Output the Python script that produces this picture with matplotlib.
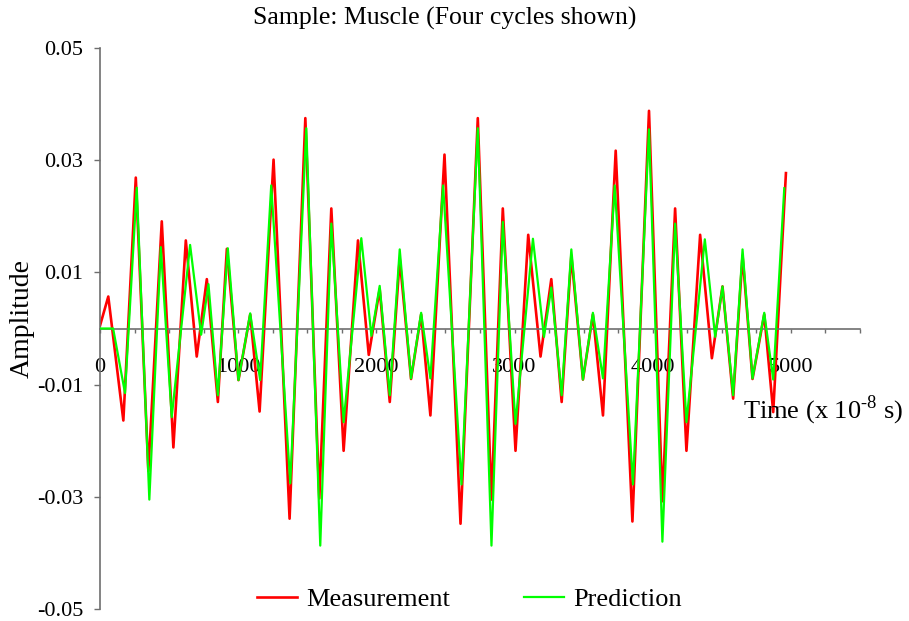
import matplotlib
matplotlib.use("Agg")
import matplotlib.pyplot as plt
import numpy as np

plt.rcParams['font.family'] = ['Liberation Serif', 'DejaVu Serif']
plt.rcParams['mathtext.fontset'] = 'custom'
plt.rcParams['mathtext.rm'] = 'Liberation Serif'

# turning points of the measured signal (time in 1e-8 s, amplitude)
meas_t = [0, 60, 169, 259, 350, 447, 531, 621, 700, 773, 853, 918, 1002, 1087, 1155,
          1256, 1372, 1486, 1587, 1674, 1763, 1867, 1945, 2024, 2097, 2169, 2251, 2324, 2391,
          2493, 2609, 2734, 2833, 2915, 3007, 3099, 3188, 3266, 3341, 3411, 3495, 3567, 3640,
          3732, 3853, 3973, 4070, 4162, 4244, 4343, 4428, 4505, 4582, 4650, 4722, 4807, 4872, 4964]
meas_v = [0.0005, 0.0057, -0.0164, 0.0269, -0.0254, 0.0191, -0.0212, 0.0157, -0.0050, 0.0088,
          -0.0131, 0.0142, -0.0092, 0.0025, -0.0148,
          0.0301, -0.0339, 0.0375, -0.0303, 0.0214, -0.0218, 0.0157, -0.0047, 0.0070, -0.0131,
          0.0124, -0.0090, 0.0025, -0.0155,
          0.0310, -0.0348, 0.0375, -0.0305, 0.0214, -0.0218, 0.0167, -0.0050, 0.0088, -0.0131,
          0.0130, -0.0091, 0.0025, -0.0155,
          0.0317, -0.0344, 0.0388, -0.0308, 0.0214, -0.0218, 0.0167, -0.0053, 0.0075, -0.0125,
          0.0130, -0.0090, 0.0025, -0.0149, 0.0277]

# turning points of the model prediction
pred_t = [0, 95, 181, 266, 357, 440, 519, 652, 732, 785, 853, 925, 1002, 1087, 1159,
          1239, 1377, 1493, 1594, 1674, 1763, 1891, 1964, 2024, 2097, 2169, 2251, 2324, 2391,
          2483, 2616, 2734, 2833, 2915, 3007, 3133, 3213, 3266, 3341, 3411, 3495, 3567, 3640,
          3725, 3857, 3973, 4070, 4162, 4244, 4377, 4452, 4505, 4582, 4650, 4722, 4807, 4872, 4952]
pred_v = [0.0, 0.0, -0.0115, 0.0251, -0.0305, 0.0145, -0.0158, 0.0149, -0.0011, 0.0079,
          -0.0119, 0.0143, -0.0092, 0.0027, -0.0092,
          0.0255, -0.0276, 0.0357, -0.0387, 0.0187, -0.0167, 0.0161, -0.0013, 0.0076, -0.0119,
          0.0141, -0.0089, 0.0028, -0.0089,
          0.0255, -0.0278, 0.0357, -0.0387, 0.0190, -0.0170, 0.0160, -0.0015, 0.0073, -0.0119,
          0.0141, -0.0091, 0.0028, -0.0089,
          0.0255, -0.0278, 0.0355, -0.0380, 0.0187, -0.0167, 0.0159, -0.0015, 0.0075, -0.0119,
          0.0141, -0.0089, 0.0028, -0.0091, 0.0250]

y_ticks = [-0.05, -0.03, -0.01, 0.01, 0.03, 0.05]
y_tick_labels = ['-0.05', '-0.03', '-0.01', '0.01', '0.03', '0.05']
x_ticks = [0, 1000, 2000, 3000, 4000, 5000]
x_tick_labels = ['0', '1000', '2000', '3000', '4000', '5000']

axis_grey = '#6e6e6e'

fig = plt.figure(figsize=(9.09, 6.21), dpi=100)
ax = fig.add_axes([100 / 909, 12 / 621, 760 / 909, 561 / 621])

ax.plot(meas_t, meas_v, color='#ff0000', lw=1.9, label='Measurement', zorder=2,
        solid_joinstyle='round')
ax.plot(pred_t, pred_v, color='#00ff00', lw=1.6, label='Prediction', zorder=3,
        solid_joinstyle='round')

ax.set_xlim(0, 5500)
ax.set_ylim(-0.05, 0.05)

# x axis runs through zero, y axis on the left
for side in ['top', 'right']:
    ax.spines[side].set_visible(False)
ax.spines['bottom'].set_position(('data', 0))
ax.spines['bottom'].set_color(axis_grey)
ax.spines['left'].set_color(axis_grey)
ax.spines['bottom'].set_linewidth(1.2)
ax.spines['left'].set_linewidth(1.2)

ax.set_xticks(x_ticks)
ax.set_xticklabels(x_tick_labels)
ax.set_xticks(np.arange(0, 5501, 250), minor=True)
ax.set_yticks(y_ticks)
ax.set_yticklabels(y_tick_labels)
ax.tick_params(axis='x', which='both', direction='out', length=3, width=1, color=axis_grey,
               labelsize=16, pad=18)
ax.tick_params(axis='y', direction='out', length=4, width=1, color=axis_grey,
               labelsize=16, pad=8)

fig.text(22 / 909, 1 - 318 / 621, 'Amplitude', rotation=90, ha='center', va='center',
         fontsize=20)
ax.text(1.0566, 0.3547, r'Time (x 10$^{\text{-8}}$ s)', transform=ax.transAxes,
        ha='right', va='center', fontsize=19)

fig.text(445 / 909, 1 - 18 / 621, 'Sample: Muscle (Four cycles shown)',
         ha='center', va='center', fontsize=18.5)

fig.legend(loc='center', bbox_to_anchor=(469.5 / 909, 1 - 599 / 621), ncol=2,
           frameon=False, fontsize=19, handlelength=1.5, handletextpad=0.35,
           columnspacing=2.8)

fig.savefig('out.png', dpi=100)
